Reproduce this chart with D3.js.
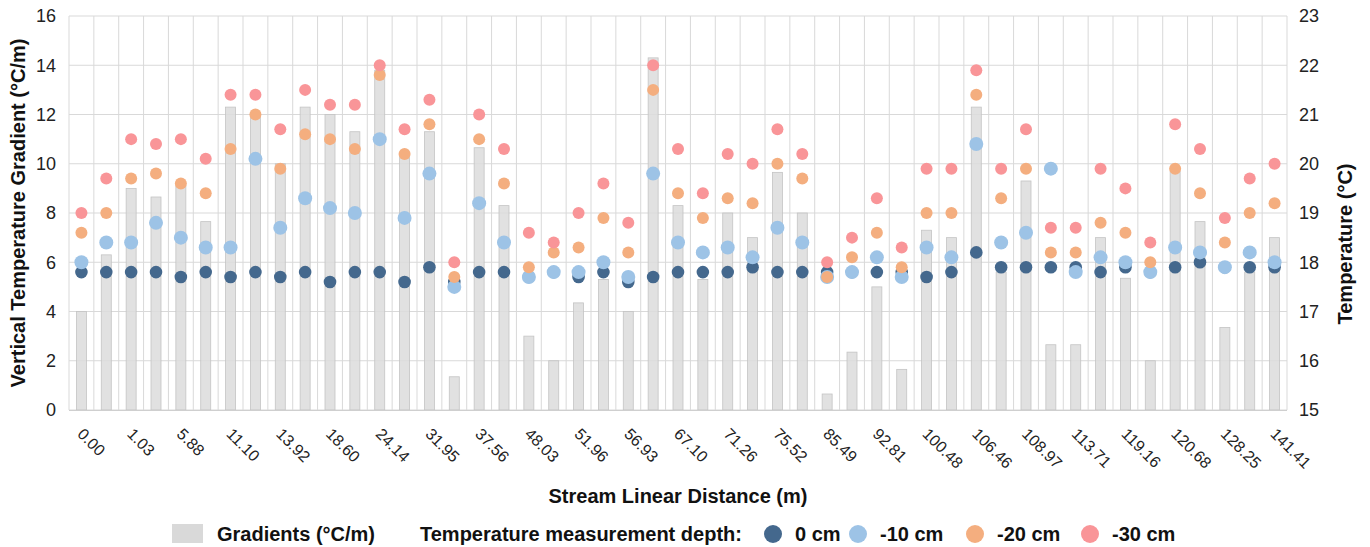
<!DOCTYPE html>
<html>
  <head>
    <meta charset="utf-8">
    <title>Stream temperature gradients</title>
    <script src="https://cdn.jsdelivr.net/npm/d3@7/dist/d3.min.js"></script>
    <style type="text/css">

html, body {
  margin: 0;
  background: #fff;
}

svg {
  display: block;
  font-family: "Liberation Sans", Arial, sans-serif;
}

.grid line {
  stroke: #d9d9d9;
  stroke-width: 1;
}

.tick-label {
  font-size: 18px;
  fill: #222;
}

.title {
  font-size: 20px;
  font-weight: bold;
  fill: #111;
}

    </style>
  </head>
  <body>
    <script type="text/javascript">

// x tick labels (every second category is labelled in the original)
var tickLabels = ["0.00", "1.03", "5.88", "11.10", "13.92", "18.60", "24.14", "31.95",
  "37.56", "48.03", "51.96", "56.93", "67.10", "71.26", "75.52", "85.49", "92.81",
  "100.48", "106.46", "108.97", "113.71", "119.16", "120.68", "128.25", "141.41"];

// vertical temperature gradient (°C/m), one per measuring point
var gradients = [4.0, 6.3, 9.0, 8.65, 9.1, 7.65, 12.3, 12.0, 10.0, 12.3,
  12.0, 11.3, 13.8, 10.3, 11.3, 1.35, 10.65, 8.3, 3.0, 2.0,
  4.35, 5.3, 4.0, 14.3, 8.3, 5.3, 8.0, 7.0, 9.65, 8.0,
  0.65, 2.35, 5.0, 1.65, 7.3, 7.0, 12.3, 5.6, 9.3, 2.65,
  2.65, 7.0, 5.35, 2.0, 9.7, 7.65, 3.35, 5.6, 7.0];

// temperatures (°C) at each depth
var temp0 = [17.8, 17.8, 17.8, 17.8, 17.7, 17.8, 17.7, 17.8, 17.7, 17.8,
  17.6, 17.8, 17.8, 17.6, 17.9, 17.6, 17.8, 17.8, 17.7, 17.8,
  17.7, 17.8, 17.6, 17.7, 17.8, 17.8, 17.8, 17.9, 17.8, 17.8,
  17.8, 17.8, 17.8, 17.8, 17.7, 17.8, 18.2, 17.9, 17.9, 17.9,
  17.9, 17.8, 17.9, 17.8, 17.9, 18.0, 17.9, 17.9, 17.9];

var temp10 = [18.0, 18.4, 18.4, 18.8, 18.5, 18.3, 18.3, 20.1, 18.7, 19.3,
  19.1, 19.0, 20.5, 18.9, 19.8, 17.5, 19.2, 18.4, 17.7, 17.8,
  17.8, 18.0, 17.7, 19.8, 18.4, 18.2, 18.3, 18.1, 18.7, 18.4,
  17.7, 17.8, 18.1, 17.7, 18.3, 18.1, 20.4, 18.4, 18.6, 19.9,
  17.8, 18.1, 18.0, 17.8, 18.3, 18.2, 17.9, 18.2, 18.0];

var temp20 = [18.6, 19.0, 19.7, 19.8, 19.6, 19.4, 20.3, 21.0, 19.9, 20.6,
  20.5, 20.3, 21.8, 20.2, 20.8, 17.7, 20.5, 19.6, 17.9, 18.2,
  18.3, 18.9, 18.2, 21.5, 19.4, 18.9, 19.3, 19.2, 20.0, 19.7,
  17.7, 18.1, 18.6, 17.9, 19.0, 19.0, 21.4, 19.3, 19.9, 18.2,
  18.2, 18.8, 18.6, 18.0, 19.9, 19.4, 18.4, 19.0, 19.2];

var temp30 = [19.0, 19.7, 20.5, 20.4, 20.5, 20.1, 21.4, 21.4, 20.7, 21.5,
  21.2, 21.2, 22.0, 20.7, 21.3, 18.0, 21.0, 20.3, 18.6, 18.4,
  19.0, 19.6, 18.8, 22.0, 20.3, 19.4, 20.2, 20.0, 20.7, 20.2,
  18.0, 18.5, 19.3, 18.3, 19.9, 19.9, 21.9, 19.9, 20.7, 18.7,
  18.7, 19.9, 19.5, 18.4, 20.8, 20.3, 18.9, 19.7, 20.0];

var depthNames = ["0 cm", "-10 cm", "-20 cm", "-30 cm"];
var depthColors = ["#44688d", "#9dc3e6", "#f4ae7f", "#f99598"];
var depthRadius = [6.3, 7, 6, 6];

var W = 1370, H = 547;
var plotLeft = 69, plotRight = 1287, plotTop = 16, plotBottom = 410;

var svg = d3.select("body").append("svg")
    .attr("width", W)
    .attr("height", H);

var x = d3.scaleBand()
    .domain(d3.range(gradients.length))
    .range([plotLeft, plotRight]);

var yL = d3.scaleLinear().domain([0, 16]).range([plotBottom, plotTop]);
var yR = d3.scaleLinear().domain([15, 23]).range([plotBottom, plotTop]);

// grid
var grid = svg.append("g").attr("class", "grid");

grid.selectAll(".h")
    .data(yL.ticks(8))
  .enter().append("line")
    .attr("x1", plotLeft)
    .attr("x2", plotRight)
    .attr("y1", function(d) { return yL(d); })
    .attr("y2", function(d) { return yL(d); });

grid.selectAll(".v")
    .data(d3.range(gradients.length + 1))
  .enter().append("line")
    .attr("x1", function(d) { return plotLeft + d * x.bandwidth(); })
    .attr("x2", function(d) { return plotLeft + d * x.bandwidth(); })
    .attr("y1", plotTop)
    .attr("y2", plotBottom);

// bars
var barW = 10;
svg.append("g").selectAll("rect")
    .data(gradients)
  .enter().append("rect")
    .attr("x", function(d, i) { return x(i) + x.bandwidth() / 2 - barW / 2; })
    .attr("y", function(d) { return yL(d); })
    .attr("width", barW)
    .attr("height", function(d) { return plotBottom - yL(d); })
    .attr("fill", "#dcdcdc")
    .attr("fill-opacity", 0.85)
    .attr("stroke", "#c4c4c4")
    .attr("stroke-width", 0.8);

// bottom axis line
svg.append("line")
    .attr("x1", plotLeft).attr("x2", plotRight)
    .attr("y1", plotBottom + 0.5).attr("y2", plotBottom + 0.5)
    .attr("stroke", "#cfcfcf");

// points, drawn shallowest first
[temp0, temp10, temp20, temp30].forEach(function(series, k) {
  svg.append("g").selectAll("circle")
      .data(series)
    .enter().append("circle")
      .attr("cx", function(d, i) { return x(i) + x.bandwidth() / 2; })
      .attr("cy", function(d) { return yR(d); })
      .attr("r", depthRadius[k])
      .attr("fill", depthColors[k]);
});

// left axis labels
svg.append("g").selectAll("text")
    .data(yL.ticks(8))
  .enter().append("text")
    .attr("class", "tick-label")
    .attr("x", plotLeft - 13)
    .attr("y", function(d) { return yL(d); })
    .attr("dy", "0.35em")
    .attr("text-anchor", "end")
    .text(function(d) { return d; });

// right axis labels
svg.append("g").selectAll("text")
    .data(yR.ticks(8))
  .enter().append("text")
    .attr("class", "tick-label")
    .attr("x", plotRight + 12)
    .attr("y", function(d) { return yR(d); })
    .attr("dy", "0.35em")
    .text(function(d) { return d; });

// x labels, rotated
svg.append("g").selectAll("text")
    .data(tickLabels)
  .enter().append("text")
    .attr("class", "tick-label")
    .style("font-size", "16px")
    .attr("transform", function(d, i) {
      var cx = x(i * 2) + x.bandwidth() / 2;
      return "translate(" + (cx - 5) + "," + 435 + ") rotate(45)";
    })
    .text(function(d) { return d; });

// titles
svg.append("text")
    .attr("class", "title")
    .attr("transform", "translate(25," + ((plotTop + plotBottom) / 2) + ") rotate(-90)")
    .attr("text-anchor", "middle")
    .text("Vertical Temperature Gradient (°C/m)");

svg.append("text")
    .attr("class", "title")
    .attr("transform", "translate(1352," + 244 + ") rotate(-90)")
    .attr("text-anchor", "middle")
    .text("Temperature (°C)");

svg.append("text")
    .attr("class", "title")
    .attr("x", 678)
    .attr("y", 503)
    .attr("text-anchor", "middle")
    .text("Stream Linear Distance (m)");

// legend
var leg = svg.append("g");
leg.append("rect")
    .attr("x", 172).attr("y", 524)
    .attr("width", 31).attr("height", 19)
    .attr("fill", "#d9d9d9");
leg.append("text").attr("class", "title")
    .attr("x", 217).attr("y", 541)
    .text("Gradients (°C/m)");
leg.append("text").attr("class", "title")
    .attr("x", 420).attr("y", 541)
    .text("Temperature measurement depth:");

var legX = [773, 858, 975, 1090];
depthNames.forEach(function(name, k) {
  leg.append("circle")
      .attr("cx", legX[k]).attr("cy", 534)
      .attr("r", 9)
      .attr("fill", depthColors[k]);
  leg.append("text").attr("class", "title")
      .attr("x", legX[k] + 22).attr("y", 541)
      .text(name);
});

    </script>
  </body>
</html>
